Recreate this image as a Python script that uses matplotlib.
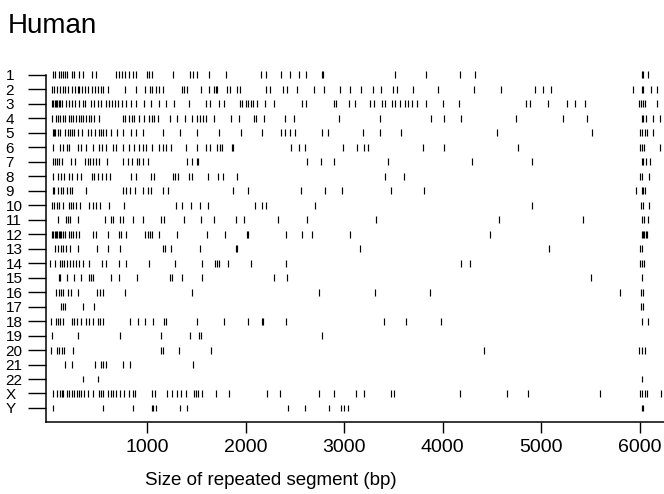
import matplotlib
matplotlib.use("Agg")
import matplotlib.pyplot as plt

plt.rcParams['font.family'] = ['Liberation Sans', 'DejaVu Sans']

chrom_labels = [str(i) for i in range(1, 23)] + ['X', 'Y']

chr1 = [51, 65, 105, 125, 146, 173, 193, 240, 260, 314, 348, 442, 483, 685, 719, 746, 780, 813, 861, 888, 996, 1023, 1056, 1259, 1434, 1468, 1512, 1630, 1805, 2153, 2203, 2355, 2446, 2541, 2608, 2770, 2785, 3519, 3829, 4176, 4328, 6015, 6030, 6080]
chr2 = [38, 61, 85, 119, 146, 173, 196, 240, 274, 297, 314, 341, 375, 398, 442, 476, 500, 533, 550, 601, 780, 888, 982, 1029, 1056, 1090, 1124, 1158, 1353, 1377, 1411, 1546, 1630, 1681, 1697, 1714, 1815, 1842, 1917, 1940, 2210, 2244, 2379, 2423, 2524, 2692, 2794, 2955, 3057, 3171, 3293, 3374, 3495, 3536, 3698, 3947, 4318, 4588, 4935, 5020, 5094, 5930, 6020, 6030, 6116, 6167]
chr3 = [38, 51, 65, 78, 92, 105, 119, 136, 179, 213, 240, 274, 314, 348, 375, 432, 466, 500, 533, 584, 618, 645, 672, 702, 746, 786, 837, 888, 972, 1039, 1124, 1191, 1276, 1427, 1596, 1637, 1731, 1782, 1940, 1967, 2001, 2025, 2052, 2075, 2119, 2197, 2288, 2575, 2608, 2895, 2912, 3047, 3114, 3259, 3299, 3384, 3418, 3485, 3519, 3569, 3620, 3644, 3687, 3738, 3832, 4001, 4160, 4844, 4885, 5070, 5263, 5340, 5441, 5990, 6010, 6030, 6050, 6167]
chr4 = [38, 78, 98, 119, 146, 173, 206, 230, 254, 281, 308, 331, 355, 382, 409, 432, 466, 517, 753, 780, 820, 847, 871, 915, 972, 1023, 1050, 1073, 1107, 1232, 1309, 1387, 1454, 1505, 1535, 1569, 1603, 1681, 1849, 1933, 2085, 2109, 2186, 2399, 2490, 2952, 3360, 3880, 4015, 4183, 4743, 5222, 5465, 6015, 6032, 6065, 6133, 6200]
chr5 = [44, 58, 71, 95, 119, 173, 196, 220, 240, 264, 297, 341, 399, 432, 476, 510, 533, 557, 584, 635, 692, 760, 837, 888, 955, 1164, 1333, 1505, 1731, 1950, 2170, 2355, 2399, 2446, 2500, 2770, 2838, 3192, 3360, 3576, 4554, 5509, 5998, 6020, 6048, 6072, 6133]
chr6 = [44, 119, 152, 186, 213, 297, 331, 382, 449, 510, 544, 584, 652, 685, 753, 820, 871, 921, 955, 989, 1056, 1124, 1164, 1198, 1242, 1394, 1512, 1596, 1637, 1714, 1738, 1765, 1859, 1873, 2456, 2541, 2601, 2989, 3131, 3198, 3242, 3795, 4015, 4767, 5998, 6020, 6040, 6200]
chr7 = [44, 65, 85, 112, 139, 230, 274, 375, 399, 422, 449, 483, 517, 591, 760, 803, 847, 894, 921, 955, 1006, 1411, 1461, 1512, 1522, 2625, 2760, 2901, 3441, 4295, 4902, 6015, 6032, 6059, 6099]
chr8 = [44, 95, 129, 163, 206, 240, 287, 331, 442, 466, 500, 544, 584, 625, 837, 888, 1039, 1073, 1259, 1286, 1310, 1427, 1461, 1620, 1724, 1771, 1917, 3411, 3610, 5998, 6022, 6092]
chr9 = [44, 61, 95, 129, 152, 186, 220, 240, 382, 753, 786, 827, 881, 955, 1006, 1039, 1158, 1218, 1873, 2028, 2558, 2804, 2979, 3478, 3805, 5964, 6015, 6032, 6049]
chr10 = [38, 61, 85, 112, 146, 206, 230, 254, 281, 321, 409, 449, 483, 523, 611, 770, 1293, 1360, 1444, 1535, 1623, 2095, 2163, 2210, 2703, 4902, 6005, 6025, 6092]
chr11 = [95, 179, 203, 220, 297, 577, 635, 658, 726, 753, 854, 955, 1141, 1174, 1377, 1546, 1681, 1906, 1984, 2331, 2625, 3323, 4574, 5424, 6022, 6042, 6082]
chr12 = [38, 51, 65, 78, 92, 105, 119, 132, 152, 173, 206, 230, 254, 281, 308, 449, 483, 601, 712, 736, 786, 982, 1006, 1029, 1056, 1124, 1309, 1613, 1792, 2018, 2028, 2412, 2568, 2676, 3057, 4480, 6015, 6030, 6045, 6060, 6075]
chr13 = [71, 95, 129, 152, 179, 220, 297, 490, 601, 726, 1158, 1185, 1242, 1535, 1900, 1917, 3165, 5080, 5998, 6022]
chr14 = [17, 71, 119, 139, 163, 186, 220, 247, 281, 314, 355, 415, 544, 584, 712, 786, 1016, 1286, 1562, 1691, 1714, 1731, 1825, 2052, 2406, 4183, 4278, 5998, 6015, 6040]
chr15 = [105, 119, 186, 264, 331, 409, 432, 456, 635, 712, 894, 1232, 1252, 1353, 1556, 2288, 2423, 5505, 6015]
chr16 = [78, 105, 129, 152, 196, 230, 297, 490, 523, 557, 780, 1461, 2743, 3316, 3873, 5796, 6005, 6030]
chr17 = [129, 146, 173, 348, 466, 6005, 6025]
chr18 = [28, 78, 98, 119, 152, 240, 264, 287, 331, 382, 409, 449, 500, 523, 550, 827, 904, 982, 1063, 1174, 1198, 1505, 1782, 2028, 2163, 2180, 2412, 3401, 3627, 3984, 6015, 6082]
chr19 = [38, 297, 726, 1141, 1434, 1529, 1546, 2777]
chr20 = [28, 85, 112, 139, 163, 254, 1141, 1158, 1320, 1647, 4419, 5988, 6015, 6049]
chr21 = [173, 240, 476, 533, 557, 584, 753, 827, 1468]
chr22 = [348, 500, 6022]
chrX = [51, 85, 119, 139, 152, 186, 213, 240, 264, 287, 314, 331, 365, 399, 449, 510, 533, 557, 601, 635, 652, 685, 726, 770, 820, 854, 881, 1056, 1083, 1208, 1252, 1309, 1343, 1394, 1478, 1502, 1522, 1562, 1697, 1832, 2220, 2345, 2743, 2895, 3124, 3205, 3478, 3502, 4176, 4649, 4868, 5590, 5998, 6020, 6048, 6072, 6217]
chrY = [48, 551, 858, 1050, 1065, 1090, 1330, 1405, 2426, 2598, 2850, 2965, 3000, 3035, 6020, 6032]

segments = [chr1, chr2, chr3, chr4, chr5, chr6, chr7, chr8, chr9, chr10, chr11, chr12,
            chr13, chr14, chr15, chr16, chr17, chr18, chr19, chr20, chr21, chr22, chrX, chrY]

x_ticks = [1000, 2000, 3000, 4000, 5000, 6000]

fig = plt.figure(figsize=(6.64, 4.94), dpi=100)
ax = fig.add_axes([0.070, 0.1457, 0.930, 0.7187])

for i, vals in enumerate(segments, start=1):
    ax.vlines(vals, i - 0.24, i + 0.24, color='black', linewidth=0.85)

ax.set_xlim(-19, 6243)
ax.set_ylim(24.97, 0.45)

ax.spines['top'].set_visible(False)
ax.spines['right'].set_visible(False)
ax.spines['left'].set_linewidth(1.1)
ax.spines['bottom'].set_linewidth(1.1)
ax.spines['left'].set_bounds(1, 24.97)

ax.set_yticks(range(1, 25))
ax.set_yticklabels(chrom_labels)
ax.tick_params(axis='y', length=13, width=1.0, pad=16.5, labelsize=11)
for lab in ax.get_yticklabels():
    lab.set_horizontalalignment('left')

ax.set_xticks(x_ticks)
ax.set_xticklabels([str(t) for t in x_ticks])
ax.tick_params(axis='x', length=8, width=1.0, pad=4, labelsize=14)

fig.text(271 / 664, 0.0182, 'Size of repeated segment (bp)', fontsize=13.5,
         ha='center', va='baseline')

fig.text(0.012, 0.934, 'Human', fontsize=20, ha='left', va='baseline')

fig.savefig('out.png', dpi=100)
